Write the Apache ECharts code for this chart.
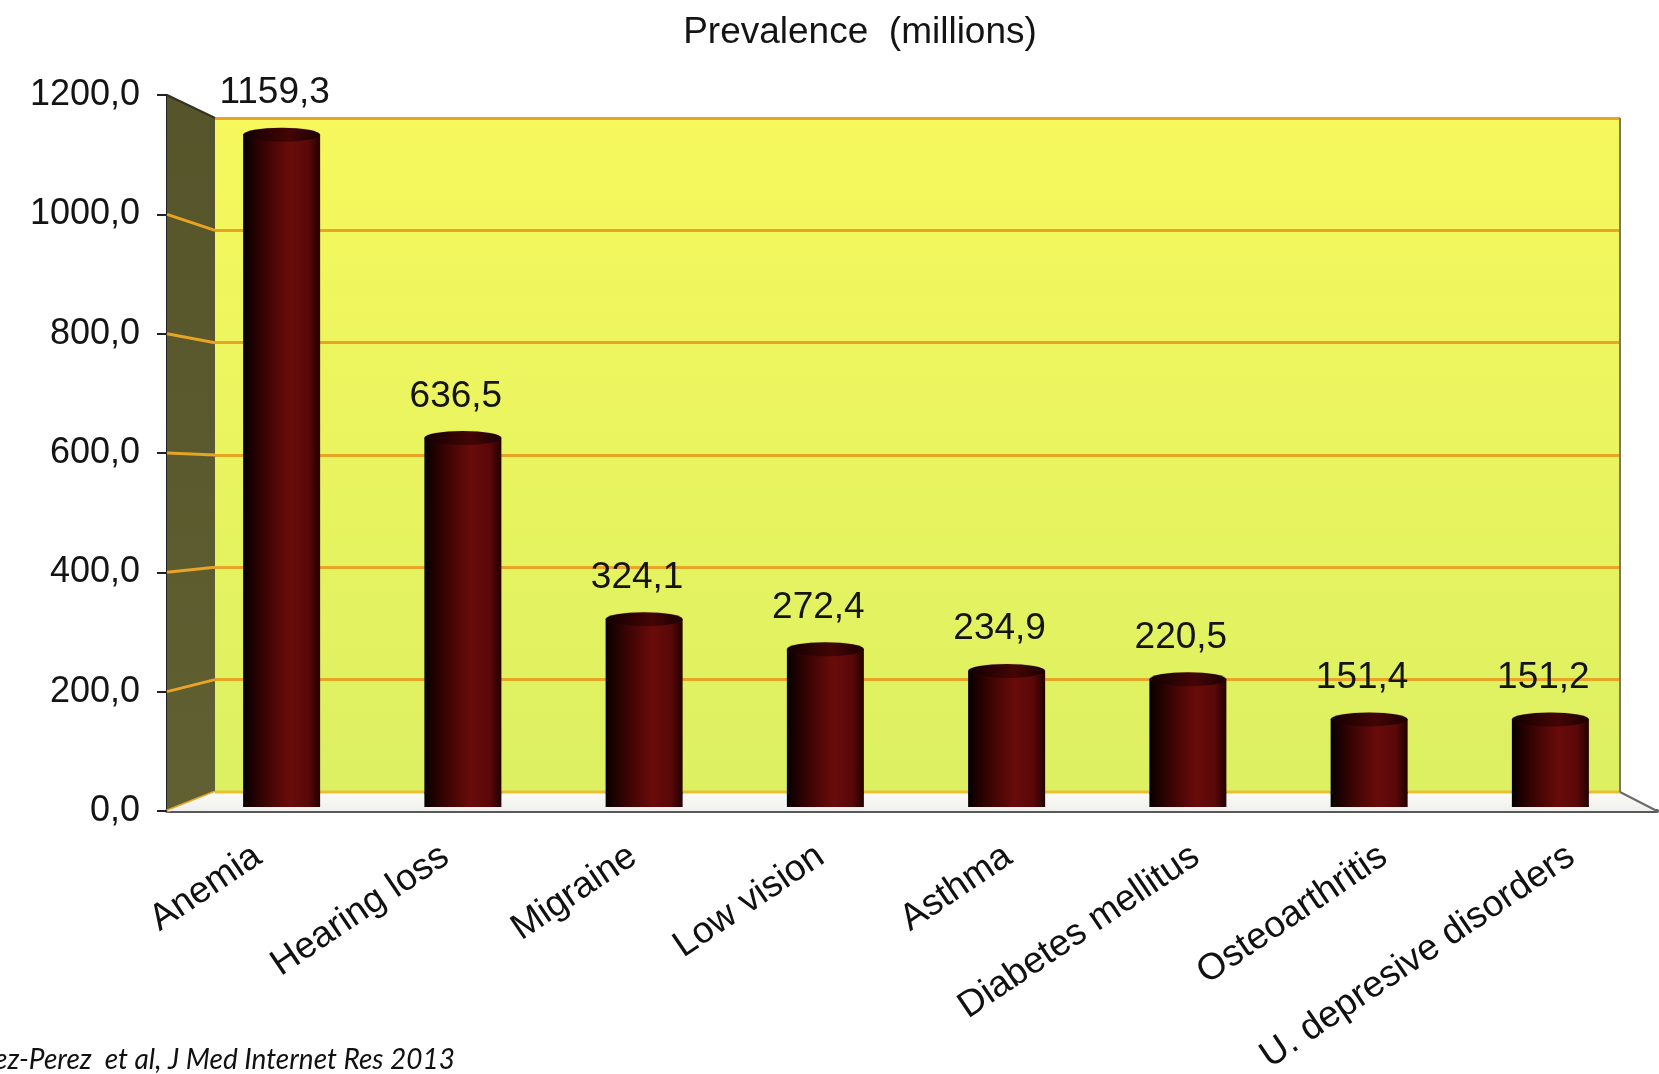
<!DOCTYPE html>
<html>
<head>
<meta charset="utf-8">
<script src="https://cdn.jsdelivr.net/npm/echarts@6/dist/echarts.min.js"></script>
<style>
html,body{margin:0;padding:0;background:#fff;}
#c{width:1659px;height:1074px;}
</style>
</head>
<body>
<div id="c"></div>
<script>
// ---- data ----
var categories = ['Anemia', 'Hearing loss', 'Migraine', 'Low vision', 'Asthma', 'Diabetes mellitus', 'Osteoarthritis', 'U. depresive disorders'];
var prevalence = [1159.3, 636.5, 324.1, 272.4, 234.9, 220.5, 151.4, 151.2];
var yTicks = [0, 200, 400, 600, 800, 1000, 1200];
var titleText = 'Prevalence  (millions)';
var sourceText = 'nez-Perez  et al, J Med Internet Res 2013';

// ---- layout ----
var back = {left: 215, top: 118, width: 1405, height: 674};   // back wall
var front = {left: 167, top: 95, width: 1490, height: 716};   // front axis plane
var mid = {left: 191, top: 111, width: 1450, height: 696};    // bars plane
var lab = {left: 164, top: 95, width: 1501, height: 716};     // label plane
var FONT = 'Liberation Sans, Arial, sans-serif';

function fmt(v) { return v.toFixed(1).replace('.', ','); }

var chart = echarts.init(document.getElementById('c'));
var yMin = yTicks[0], yMax = yTicks[yTicks.length - 1], yInt = yTicks[1] - yTicks[0];

var barGrad = new echarts.graphic.LinearGradient(0, 0, 1, 0, [
  {offset: 0, color: '#050000'},
  {offset: 0.25, color: '#360303'},
  {offset: 0.6, color: '#6a0b0b'},
  {offset: 0.85, color: '#5a0808'},
  {offset: 1, color: '#220000'}
]);
var capGrad = new echarts.graphic.LinearGradient(0, 0, 1, 0, [
  {offset: 0, color: '#120000'},
  {offset: 0.6, color: '#440505'},
  {offset: 1, color: '#1c0000'}
]);

function gridOf(r, extra) {
  var o = {left: r.left, top: r.top, width: r.width, height: r.height, containLabel: false, outerBoundsMode: 'none'};
  for (var k in (extra || {})) o[k] = extra[k];
  return o;
}

var option = {
  backgroundColor: '#ffffff',
  animation: false,
  title: {
    text: titleText,
    left: 855, top: 9, textAlign: 'center',
    textStyle: {fontFamily: FONT, fontSize: 37, fontWeight: 'normal', color: '#141414'}
  },
  grid: [
    gridOf(back, {show: true, borderWidth: 0,
      backgroundColor: new echarts.graphic.LinearGradient(0, 0, 0, 1, [
        {offset: 0, color: '#f6f85c'}, {offset: 1, color: '#dcf062'}])}),
    gridOf(front),
    gridOf(mid),
    gridOf(lab)
  ],
  xAxis: [
    {gridIndex: 0, type: 'category', data: categories, show: false},
    {gridIndex: 1, type: 'category', data: categories,
     axisLine: {show: true, lineStyle: {color: '#595959', width: 4}},
     axisTick: {show: false}, axisLabel: {show: false}},
    {gridIndex: 2, type: 'category', data: categories, show: false},
    {gridIndex: 3, type: 'category', data: categories,
     axisLine: {show: false}, axisTick: {show: false},
     axisLabel: {interval: 0, rotate: 34, margin: 42, fontSize: 37, color: '#111',
                 fontFamily: FONT, hideOverlap: false}}
  ],
  yAxis: [
    {gridIndex: 0, type: 'value', min: yMin, max: yMax, interval: yInt,
     axisLine: {show: false}, axisTick: {show: false}, axisLabel: {show: false},
     splitLine: {show: true, lineStyle: {color: '#e8a424', width: 3}}},
    {gridIndex: 1, type: 'value', min: yMin, max: yMax, interval: yInt,
     axisLine: {show: true, lineStyle: {color: '#222', width: 2}},
     axisTick: {show: true, inside: false, length: 10, lineStyle: {color: '#222', width: 2}},
     splitLine: {show: false},
     axisLabel: {margin: 27, fontSize: 36, color: '#141414', fontFamily: FONT,
                 formatter: function (v) { return fmt(v); }}},
    {gridIndex: 2, type: 'value', min: yMin, max: yMax, interval: yInt, show: false, splitLine: {show: false}},
    {gridIndex: 3, type: 'value', min: yMin, max: yMax, interval: yInt, show: false, splitLine: {show: false}}
  ],
  series: [
    {type: 'bar', xAxisIndex: 2, yAxisIndex: 2, data: prevalence, barWidth: 77, z: 3,
     itemStyle: {color: barGrad},
     label: {show: true, position: 'top', distance: 23, offset: [-7, 0], fontSize: 37, color: '#141414',
             fontFamily: FONT,
             formatter: function (p) { return fmt(p.value); }}},
    {type: 'pictorialBar', xAxisIndex: 2, yAxisIndex: 2, data: prevalence, symbol: 'circle',
     symbolSize: [77, 14], symbolPosition: 'start', symbolOffset: [0, '-50%'], z: 2,
     itemStyle: {color: barGrad}},
    {type: 'pictorialBar', xAxisIndex: 2, yAxisIndex: 2, data: prevalence, symbol: 'circle',
     symbolSize: [77, 14], symbolPosition: 'end', symbolOffset: [0, '-50%'], z: 4,
     itemStyle: {color: capGrad, borderColor: '#5a1010', borderWidth: 1}}
  ],
  graphic: []
};
chart.setOption(option);

// ---- 3D frame from axis scales ----
function yF(v) { return chart.convertToPixel({yAxisIndex: 1}, v); }
function yB(v) { return chart.convertToPixel({yAxisIndex: 0}, v); }
var fx = front.left, bx = back.left, bxr = back.left + back.width, fxr = front.left + front.width;
var g = [];
g.push({type: 'polygon', z: 1, shape: {points: [[fx, yF(yMax)], [bx, yB(yMax)], [bx, yB(yMin)], [fx, yF(yMin)]]},
  style: {fill: new echarts.graphic.LinearGradient(0, 0, 0, 1, [{offset: 0, color: '#56542a'}, {offset: 1, color: '#606032'}])}});
yTicks.forEach(function (v) {
  g.push({type: 'line', z: 1, shape: {x1: fx, y1: yF(v), x2: bx, y2: yB(v)},
    style: {stroke: v === yMax ? '#333320' : '#e8a424', lineWidth: v === yMax ? 2 : 3}});
});
g.push({type: 'polygon', z: 1, shape: {points: [[bx, yB(yMin)], [bxr, yB(yMin)], [fxr, yF(yMin)], [fx, yF(yMin)]]},
  style: {fill: new echarts.graphic.LinearGradient(0, 0, 0, 1, [{offset: 0, color: '#fdfdf4'}, {offset: 1, color: '#efefef'}])}});
g.push({type: 'line', z: 1, shape: {x1: bx, y1: yB(yMin), x2: bxr, y2: yB(yMin)}, style: {stroke: '#e8c030', lineWidth: 3}});
g.push({type: 'line', z: 1, shape: {x1: bxr, y1: yB(yMax), x2: bxr, y2: yB(yMin)}, style: {stroke: '#7a7a60', lineWidth: 2}});
g.push({type: 'line', z: 1, shape: {x1: bxr, y1: yB(yMin), x2: fxr, y2: yF(yMin)}, style: {stroke: '#6a6a6a', lineWidth: 2}});
g.push({type: 'text', z: 5, style: {text: sourceText, x: 455, y: 1060, textAlign: 'right', textVerticalAlign: 'middle',
  font: 'italic 28px Lato, "Open Sans", sans-serif', fill: '#111'}});
chart.setOption({graphic: g});
</script>
</body>
</html>
